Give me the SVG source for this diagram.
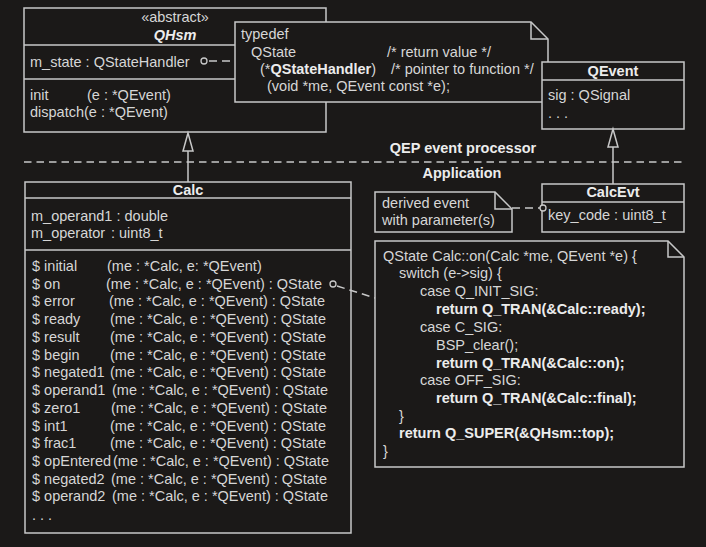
<svg xmlns="http://www.w3.org/2000/svg" width="706" height="547" viewBox="0 0 706 547">
<style>
  .bg { fill: #1b1918; }
  .box { fill: #1b1918; stroke: #c8c8c8; stroke-width: 1.5; }
  .ln { fill: none; stroke: #c8c8c8; stroke-width: 1.5; }
  .dash { fill: none; stroke: #c8c8c8; stroke-width: 1.5; stroke-dasharray: 8 5; }
  .sep { fill: none; stroke: #c8c8c8; stroke-width: 1.5; stroke-dasharray: 7.5 5; }
  .tri { fill: #1b1918; stroke: #c8c8c8; stroke-width: 1.5; }
  .dot { fill: #1b1918; stroke: #c8c8c8; stroke-width: 1.3; }
  text { font-family: "Liberation Sans", Arial, sans-serif; font-size: 14.5px; fill: #d6d6d6; }
  .b { font-weight: bold; fill: #ececec; }
  .c { text-anchor: middle; }
  .bi { font-weight: bold; font-style: italic; fill: #ececec; }
</style>
<rect class="bg" x="0" y="0" width="706" height="547"/>

<g id="qhsm">
  <rect class="box" x="24" y="8" width="302" height="124"/>
  <line class="ln" x1="24" y1="45" x2="326" y2="45"/>
  <line class="ln" x1="24" y1="79" x2="326" y2="79"/>
  <text class="c" x="175" y="22">«abstract»</text>
  <text class="bi c" x="175" y="40">QHsm</text>
  <text x="30" y="67">m_state : QStateHandler</text>
  <text x="30" y="100">init</text>
  <text x="87" y="100">(e : *QEvent)</text>
  <text x="30" y="117">dispatch(e : *QEvent)</text>
</g>

<g id="typedef-note">
  <path class="box" d="M235,22 H531 L548,39 V102 H235 Z"/>
  <path class="ln" d="M531,22 V39 H548"/>
  <text x="241" y="39">typedef</text>
  <text x="251" y="57">QState</text>
  <text x="387" y="57">/* return value */</text>
  <text x="260" y="74">(*<tspan class="b">QStateHandler</tspan>)</text>
  <text x="391" y="74">/* pointer to function */</text>
  <text x="267" y="91">(void *me, QEvent const *e);</text>
</g>

<g id="qevent">
  <rect class="box" x="542" y="62" width="142" height="67"/>
  <line class="ln" x1="542" y1="80" x2="684" y2="80"/>
  <text class="b c" x="613" y="76">QEvent</text>
  <text x="548" y="100">sig : QSignal</text>
  <text x="548" y="118">. . .</text>
</g>

<g id="separator">
  <line class="sep" x1="24" y1="162" x2="686" y2="162"/>
  <text class="b c" x="463" y="153">QEP event processor</text>
  <text class="b c" x="462" y="178">Application</text>
</g>

<g id="calc">
  <rect class="box" x="25" y="182" width="326" height="351"/>
  <line class="ln" x1="25" y1="198" x2="351" y2="198"/>
  <line class="ln" x1="25" y1="250" x2="351" y2="250"/>
  <text class="b c" x="188" y="195">Calc</text>
  <text x="31" y="221">m_operand1 : double</text>
  <text x="31" y="238">m_operator</text>
  <text x="111" y="238">: uint8_t</text>
  <text x="32" y="271">$ initial</text><text x="107" y="271">(me : *Calc, e: *QEvent)</text>
  <text x="32" y="289">$ on</text><text x="106" y="289">(me : *Calc, e : *QEvent) : QState</text>
  <text x="32" y="306">$ error</text><text x="109" y="306">(me : *Calc, e : *QEvent) : QState</text>
  <text x="32" y="324">$ ready</text><text x="110" y="324">(me : *Calc, e : *QEvent) : QState</text>
  <text x="32" y="342">$ result</text><text x="110" y="342">(me : *Calc, e : *QEvent) : QState</text>
  <text x="32" y="360">$ begin</text><text x="110" y="360">(me : *Calc, e : *QEvent) : QState</text>
  <text x="32" y="377">$ negated1</text><text x="110" y="377">(me : *Calc, e : *QEvent) : QState</text>
  <text x="32" y="395">$ operand1</text><text x="112" y="395">(me : *Calc, e : *QEvent) : QState</text>
  <text x="32" y="413">$ zero1</text><text x="111" y="413">(me : *Calc, e : *QEvent) : QState</text>
  <text x="32" y="431">$ int1</text><text x="110" y="431">(me : *Calc, e : *QEvent) : QState</text>
  <text x="32" y="448">$ frac1</text><text x="110" y="448">(me : *Calc, e : *QEvent) : QState</text>
  <text x="32" y="466">$ opEntered</text><text x="113" y="466">(me : *Calc, e : *QEvent) : QState</text>
  <text x="32" y="484">$ negated2</text><text x="111" y="484">(me : *Calc, e : *QEvent) : QState</text>
  <text x="32" y="501">$ operand2</text><text x="112" y="501">(me : *Calc, e : *QEvent) : QState</text>
  <text x="32" y="520">. . .</text>
</g>

<g id="derived-note">
  <path class="box" d="M375,192 H495 L512,209 V232 H375 Z"/>
  <path class="ln" d="M495,192 V209 H512"/>
  <text x="382" y="208">derived event</text>
  <text x="382" y="225">with parameter(s)</text>
</g>

<g id="calcevt">
  <rect class="box" x="542" y="184" width="142" height="48"/>
  <line class="ln" x1="542" y1="202" x2="684" y2="202"/>
  <text class="b c" x="613" y="197">CalcEvt</text>
  <text x="548" y="220">key_code : uint8_t</text>
</g>

<g id="code-note">
  <path class="box" d="M375,241 H668 L684,257 V467 H375 Z"/>
  <path class="ln" d="M668,241 V257 H684"/>
  <text x="383" y="261">QState Calc::on(Calc *me, QEvent *e) {</text>
  <text x="399" y="278">switch (e-&gt;sig) {</text>
  <text x="420" y="296">case Q_INIT_SIG:</text>
  <text class="b" x="436" y="314">return Q_TRAN(&amp;Calc::ready);</text>
  <text x="420" y="332">case C_SIG:</text>
  <text x="436" y="350">BSP_clear();</text>
  <text class="b" x="436" y="368">return Q_TRAN(&amp;Calc::on);</text>
  <text x="420" y="385">case OFF_SIG:</text>
  <text class="b" x="436" y="403">return Q_TRAN(&amp;Calc::final);</text>
  <text x="399" y="421">}</text>
  <text class="b" x="399" y="438">return Q_SUPER(&amp;QHsm::top);</text>
  <text x="383" y="456">}</text>
</g>

<g id="connectors">
  <!-- QHsm m_state to typedef note -->
  <circle class="dot" cx="204" cy="61" r="3"/>
  <line class="dash" x1="209" y1="61" x2="235" y2="61"/>
  <!-- inheritance Calc -> QHsm -->
  <line class="ln" x1="188" y1="151" x2="188" y2="182"/>
  <polygon class="tri" points="188,133 183,151 193,151"/>
  <!-- inheritance CalcEvt -> QEvent -->
  <line class="ln" x1="613" y1="147" x2="613" y2="184"/>
  <polygon class="tri" points="613,129 608,147 618,147"/>
  <!-- derived note to CalcEvt -->
  <line class="dash" x1="512" y1="208" x2="540" y2="208" stroke-dasharray="8 6"/>
  <circle class="dot" cx="543" cy="208" r="3"/>
  <!-- on() to code note -->
  <circle class="dot" cx="333" cy="284" r="3"/>
  <line class="dash" x1="337" y1="286" x2="375" y2="298" stroke-dasharray="9 5"/>
</g>
</svg>
